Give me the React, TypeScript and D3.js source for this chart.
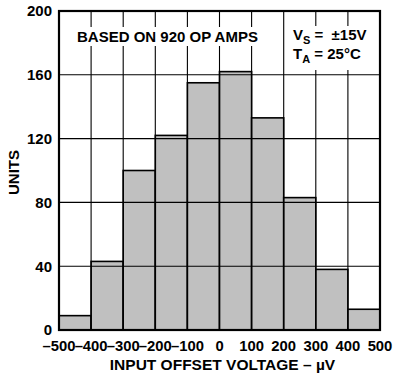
import React from "react";
import * as d3 from "d3";

const binStarts = [-500, -400, -300, -200, -100, 0, 100, 200, 300, 400];
const binWidth = 100;
const counts = [9, 43, 100, 122, 155, 162, 133, 83, 38, 13];
const xTicks = [-500, -400, -300, -200, -100, 0, 100, 200, 300, 400, 500];
const yTicks = [0, 40, 80, 120, 160, 200];
const xTitle = "INPUT OFFSET VOLTAGE – µV";
const yTitle = "UNITS";
const note = "BASED ON 920 OP AMPS";

export default function App() {
  const W = 395, H = 376;
  const L = 59, R = 380, T = 11, B = 330;
  const x = d3.scaleLinear().domain([-500, 500]).range([L, R]);
  const y = d3.scaleLinear().domain([0, 200]).range([B, T]);
  const font = "'Liberation Sans', Arial, Helvetica, sans-serif";
  const fmt = (v: number) => (v < 0 ? "–" : "") + Math.abs(v);

  return (
    <svg width={W} height={H} style={{ position: "absolute", left: 0, top: 0, background: "#fff" }}
      fontFamily={font} fontWeight="bold">
      {binStarts.map((b, i) => (
        <rect key={i} x={x(b)} y={y(counts[i])} width={x(b + binWidth) - x(b)} height={B - y(counts[i])}
          fill="#c0c0c0" stroke="#000" strokeWidth={1.6} />
      ))}
      {yTicks.filter(v => v > 0 && v < 200).map(v => (
        <line key={"h" + v} x1={L} x2={R} y1={y(v)} y2={y(v)} stroke="#000" strokeWidth={1.1} />
      ))}
      {xTicks.filter(v => v > -500 && v < 500).map(v => (
        <line key={"v" + v} x1={x(v)} x2={x(v)} y1={T} y2={B} stroke="#000" strokeWidth={1.1} />
      ))}
      {/* annotation boxes */}
      <rect x={72} y={27} width={192} height={19} fill="#fff" />
      <text x={77} y={41.5} fontSize={15} fill="#000">{note}</text>
      <rect x={289} y={26} width={88} height={44} fill="#fff" />
      <text x={293} y={40} fontSize={15} fill="#000">
        V<tspan fontSize={11} dy={4}>S</tspan><tspan dy={-4}>{" =\u00A0\u00A0±15V"}</tspan>
      </text>
      <text x={293} y={59} fontSize={15} fill="#000">
        T<tspan fontSize={11} dy={4}>A</tspan><tspan dy={-4}> = 25°C</tspan>
      </text>
      <rect x={L} y={T} width={R - L} height={B - T} fill="none" stroke="#000" strokeWidth={2.2} />
      {yTicks.map(v => (
        <text key={"yl" + v} x={52} y={y(v)} dy="0.36em" textAnchor="end" fontSize={15} fill="#000">{v}</text>
      ))}
      {xTicks.map(v => (
        <text key={"xl" + v} x={x(v)} y={351} textAnchor="middle" fontSize={14.8} fill="#000">{fmt(v)}</text>
      ))}
      <text x={(L + R) / 2 + 3} y={369.5} textAnchor="middle" fontSize={15.5} fill="#000">{xTitle}</text>
      <text transform={`translate(19,${(T + B) / 2 + 2}) rotate(-90)`} textAnchor="middle" fontSize={15} fill="#000">{yTitle}</text>
    </svg>
  );
}
